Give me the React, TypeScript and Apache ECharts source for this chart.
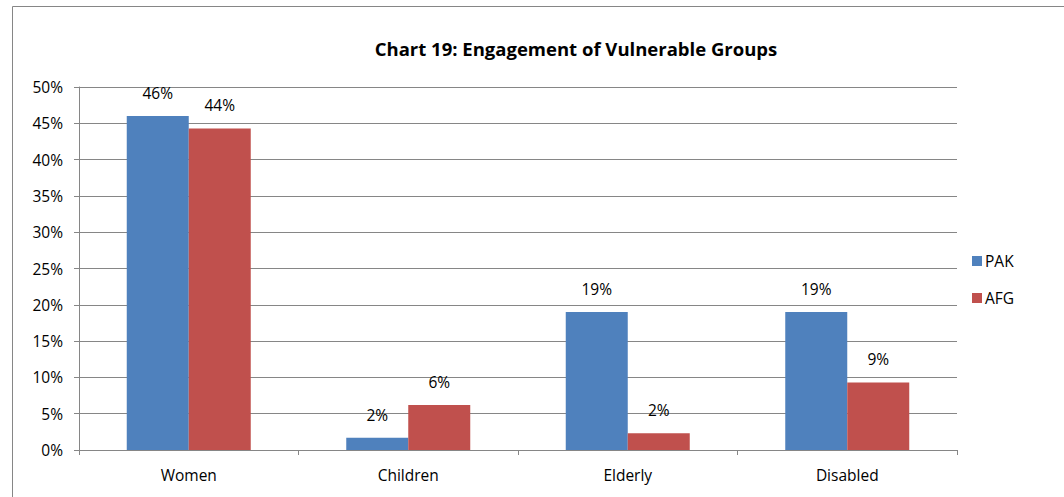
import React, { useEffect, useRef } from "react";
import * as echarts from "echarts";

const categories = ["Women", "Children", "Elderly", "Disabled"];
const pakValues = [46.0, 1.7, 19.0, 19.0];
const afgValues = [44.3, 6.2, 2.3, 9.3];
const yTicks = [0, 5, 10, 15, 20, 25, 30, 35, 40, 45, 50];

const FONT = "'Open Sans', 'Liberation Sans', sans-serif";

export default function App() {
  const ref = useRef<HTMLDivElement>(null);
  useEffect(() => {
    if (!ref.current) return;
    const chart = echarts.init(ref.current, undefined, { renderer: "svg" });
    const label = {
      show: true,
      position: "top" as const,
      distance: 15,
      color: "#000",
      fontFamily: FONT,
      fontSize: 15.5,
      formatter: (p: any) => Math.round(p.value) + "%",
    };
    chart.setOption({
      animation: false,
      backgroundColor: "#fff",
      title: {
        text: "Chart 19: Engagement of Vulnerable Groups",
        left: 571,
        textAlign: "center",
        top: 34,
        textStyle: { fontFamily: FONT, fontSize: 18.5, fontWeight: "bold", color: "#000" },
      },
      graphic: [
        {
          type: "rect",
          shape: { x: 12.5, y: 6.5, width: 1070, height: 510 },
          style: { fill: "none", stroke: "#868686", lineWidth: 1 },
          silent: true,
        },
      ],
      legend: {
        orient: "vertical",
        left: 967,
        top: 248,
        itemWidth: 10,
        itemHeight: 10,
        itemGap: 21,
        icon: "rect",
        textStyle: { fontFamily: FONT, fontSize: 15.5, color: "#000", padding: [0, 0, 0, -2] },
        data: ["PAK", "AFG"],
      },
      grid: { left: 79, right: 107, top: 87, bottom: 47, containLabel: false },
      xAxis: {
        type: "category",
        data: categories,
        axisLine: { lineStyle: { color: "#868686", width: 1 } },
        axisTick: { show: true, length: 5, lineStyle: { color: "#868686" } },
        axisLabel: { color: "#000", fontFamily: FONT, fontSize: 15.5, margin: 17 },
      },
      yAxis: {
        type: "value",
        min: yTicks[0],
        max: yTicks[yTicks.length - 1],
        interval: 5,
        axisLine: { show: true, lineStyle: { color: "#868686", width: 1 } },
        axisTick: { show: true, length: 5, lineStyle: { color: "#868686" } },
        axisLabel: { color: "#000", fontFamily: FONT, fontSize: 15.5, margin: 16, formatter: (v: number) => v + "%" },
        splitLine: { show: true, lineStyle: { color: "#868686", width: 1 } },
      },
      series: [
        {
          name: "PAK",
          type: "bar",
          data: pakValues,
          barWidth: 62,
          barGap: "0%",
          itemStyle: { color: "#4F81BD" },
          label,
        },
        {
          name: "AFG",
          type: "bar",
          data: afgValues,
          barWidth: 62,
          itemStyle: { color: "#C0504D" },
          label,
        },
      ],
    });
    return () => chart.dispose();
  }, []);
  return (
    <div
      ref={ref}
      style={{ position: "absolute", left: 0, top: 0, width: 1064, height: 497 }}
    />
  );
}
